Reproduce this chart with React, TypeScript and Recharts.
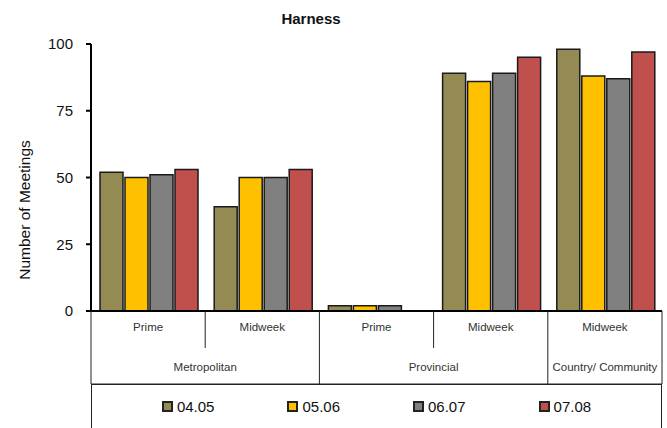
import { BarChart, Bar, XAxis, YAxis, Legend } from 'recharts';

const CATEGORIES = ['Prime', 'Midweek', 'Prime', 'Midweek', 'Midweek'];
const GROUPS = ['Metropolitan', 'Metropolitan', 'Provincial', 'Provincial', 'Country/ Community'];

const S_0405 = [52, 39, 2, 89, 98];
const S_0506 = [50, 50, 2, 86, 88];
const S_0607 = [51, 50, 2, 89, 87];
const S_0708 = [53, 53, null, 95, 97];

const SERIES = [
  { key: 'v0405', name: '04.05', values: S_0405, color: '#948A54' },
  { key: 'v0506', name: '05.06', values: S_0506, color: '#FFC000' },
  { key: 'v0607', name: '06.07', values: S_0607, color: '#808080' },
  { key: 'v0708', name: '07.08', values: S_0708, color: '#C0504D' },
];

const Y_TICKS = [0, 25, 50, 75, 100];

const data = CATEGORIES.map((cat, i) => {
  const row: Record<string, any> = { id: i, cat, group: GROUPS[i] };
  SERIES.forEach((s) => {
    row[s.key] = s.values[i];
  });
  return row;
});

const W = 667;
const H = 428;
const MARGIN = { top: 44, right: 5, bottom: 0, left: 31 };
const Y_AXIS_W = 60;
const X_AXIS_H = 73;
const PLOT_W = W - MARGIN.left - MARGIN.right - Y_AXIS_W;
const BAND = PLOT_W / CATEGORIES.length;

const FONT = '"Liberation Sans", Arial, sans-serif';

function groupSpan(i: number) {
  let n = 0;
  while (i + n < GROUPS.length && GROUPS[i + n] === GROUPS[i]) n++;
  return n;
}

// two rows under the axis: sub category, then the group it belongs to
function TwoLevelTick(props: any) {
  const { x, y, payload } = props;
  const i = payload.index;
  const left = x - BAND / 2;
  const first = i === 0 || GROUPS[i - 1] !== GROUPS[i];
  const last = i === CATEGORIES.length - 1;
  const span = first ? groupSpan(i) : 0;
  return (
    <g>
      <line x1={left} y1={y} x2={left} y2={y + (first ? X_AXIS_H : 37)} stroke="#222" strokeWidth={1} />
      {last && <line x1={left + BAND} y1={y} x2={left + BAND} y2={y + X_AXIS_H} stroke="#222" strokeWidth={1} />}
      <line x1={left} y1={y + X_AXIS_H} x2={left + BAND} y2={y + X_AXIS_H} stroke="#222" strokeWidth={1} />
      <text x={x} y={y + 16} textAnchor="middle" dominantBaseline="central" fontSize={11.5} fontFamily={FONT} fill="#333">
        {CATEGORIES[i]}
      </text>
      {first && (
        <text x={left + (span * BAND) / 2} y={y + 56} textAnchor="middle" dominantBaseline="central" fontSize={11.5} fontFamily={FONT} fill="#333">
          {GROUPS[i]}
        </text>
      )}
    </g>
  );
}

function LegendBox() {
  return (
    <div
      style={{
        width: PLOT_W,
        height: 44,
        boxSizing: 'border-box',
        borderTop: '1px solid #222',
        borderLeft: '1px solid #222',
        borderRight: '1px solid #222',
        display: 'flex',
        justifyContent: 'center',
        alignItems: 'center',
        gap: 73,
        fontFamily: FONT,
        fontSize: 15,
        color: '#111',
      }}
    >
      {SERIES.map((s) => (
        <div key={s.key} style={{ display: 'flex', alignItems: 'center', gap: 4 }}>
          <span style={{ width: 7, height: 7, background: s.color, border: '2px solid #222', display: 'inline-block' }} />
          <span>{s.name}</span>
        </div>
      ))}
    </div>
  );
}

export default function App() {
  return (
    <div style={{ position: 'absolute', left: 0, top: 0, background: '#fff' }}>
      <BarChart width={W} height={H} data={data} margin={MARGIN} barCategoryGap={9} barGap={2}>
        <text x={311} y={18} textAnchor="middle" dominantBaseline="central" fontFamily={FONT} fontWeight="bold" fontSize={15} fill="#111">
          Harness
        </text>
        <text
          x={24}
          y={210}
          transform="rotate(-90, 24, 210)"
          textAnchor="middle"
          dominantBaseline="central"
          fontFamily={FONT}
          fontSize={15.5}
          fill="#111"
        >
          Number of Meetings
        </text>
        <XAxis
          dataKey="id"
          type="category"
          height={X_AXIS_H}
          axisLine={{ stroke: '#000', strokeWidth: 2 }}
          tickLine={false}
          tickSize={0}
          tickMargin={0}
          tick={<TwoLevelTick />}
          interval={0}
        />
        <YAxis
          width={Y_AXIS_W}
          domain={[0, 100]}
          ticks={Y_TICKS}
          axisLine={{ stroke: '#000', strokeWidth: 2 }}
          tickLine={{ stroke: '#000', strokeWidth: 2 }}
          tickSize={5}
          tickMargin={13}
          tick={{ fontSize: 15, fontFamily: FONT, fill: '#111' }}
        />
        <Legend
          content={<LegendBox />}
          width={PLOT_W}
          height={44}
          wrapperStyle={{ left: MARGIN.left + Y_AXIS_W, top: H - 44 }}
        />
        {SERIES.map((s) => (
          <Bar key={s.key} dataKey={s.key} name={s.name} fill={s.color} stroke="#1a1a1a" strokeWidth={1.5} isAnimationActive={false} />
        ))}
      </BarChart>
    </div>
  );
}
